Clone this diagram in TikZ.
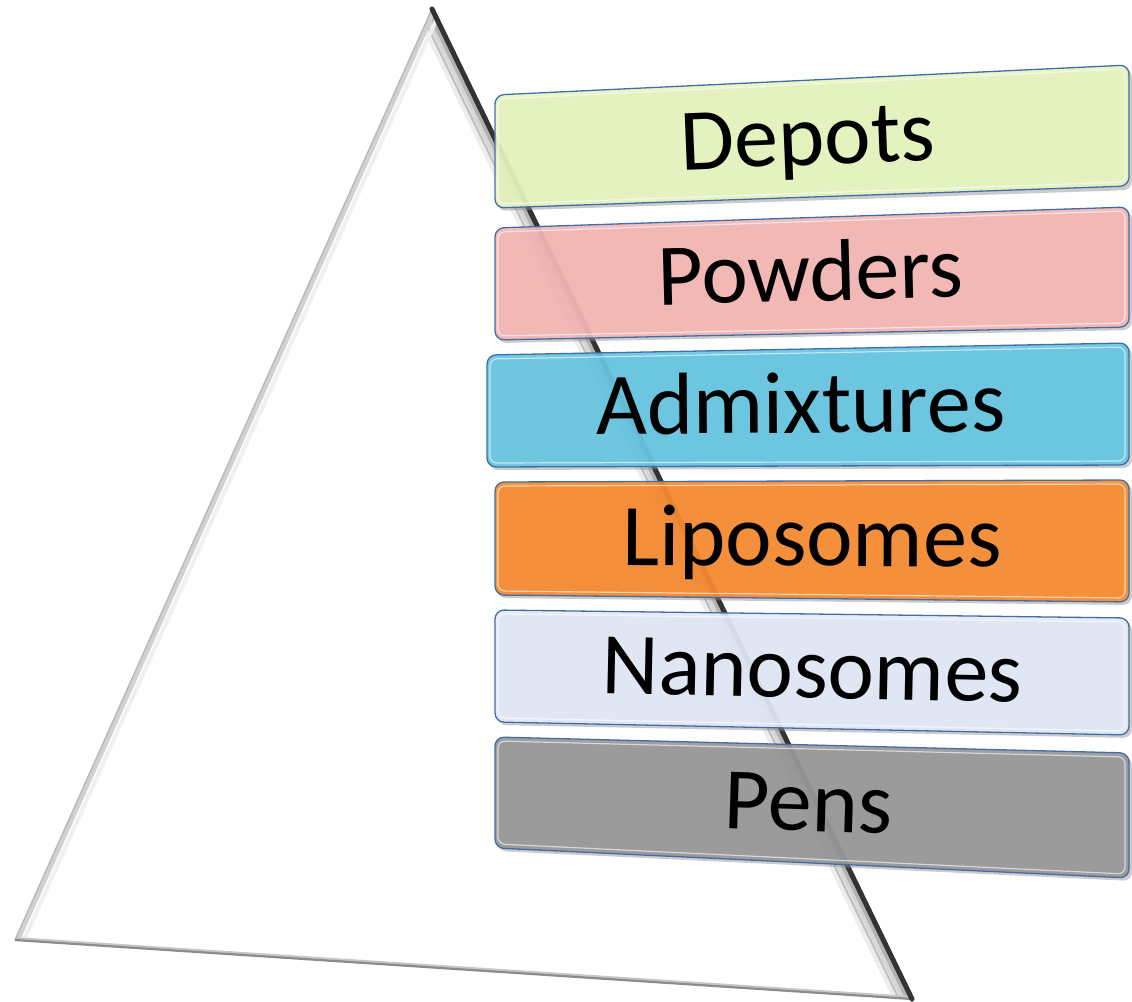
\documentclass[tikz,border=0pt]{standalone}
\usepackage{fontspec}
\setmainfont{Carlito}
\definecolor{cDep}{RGB}{230,246,190}
\definecolor{cPow}{RGB}{246,182,180}
\definecolor{cAdm}{RGB}{100,198,226}
\definecolor{cLip}{RGB}{248,136,44}
\definecolor{cNan}{RGB}{228,234,249}
\definecolor{cPen}{RGB}{150,150,150}
\definecolor{boxline}{RGB}{65,110,170}
\begin{document}
\begin{tikzpicture}[x=1pt,y=-1pt,
  boxshape/.style={rounded corners=9pt, draw=boxline, line width=1.3pt, fill opacity=0.9},
  boxshadow/.style={rounded corners=9pt, fill=black!45, opacity=0.45},
  boxhl/.style={rounded corners=7pt, draw=white, line width=1.2pt, opacity=0.6},
  lbl/.style={font=\fontsize{88}{100}\selectfont, anchor=base, inner sep=0pt, text=black}]
\useasboundingbox (0,0) rectangle (1132,1001);
% ---------- triangle ----------
\coordinate (apex) at (432,9);
\coordinate (bl) at (15,940);
\coordinate (br) at (912,999);
\fill[white] (apex) -- (bl) -- (br) -- cycle;
\begin{scope}
  \clip (apex) -- (bl) -- (br) -- cycle;
  \draw[black!7, line width=18pt] ([xshift=-9pt]apex) -- ([xshift=-9pt]br);
  \draw[black!16, line width=9pt] ([xshift=-6pt]apex) -- ([xshift=-6pt]br);
  \draw[black!30, line width=5pt] ([xshift=-4pt]apex) -- ([xshift=-4pt]br);
  \draw[black!25, line width=2pt] ([xshift=-13pt]apex) -- ([xshift=-13pt]br);
  \draw[black!18, line width=4pt] ([xshift=3pt]apex) -- ([xshift=3pt]bl);
  \draw[black!6, line width=4pt] ([xshift=9pt]apex) -- ([xshift=9pt]bl);
  \draw[black!22, line width=4pt] ([yshift=1pt]bl) -- ([yshift=1pt]br);
\end{scope}
\draw[black!28, line width=1.5pt] (apex) -- (bl);
\draw[black!45, line width=2.2pt] (bl) -- (br);
\draw[black!80, line width=5pt, line cap=round] (apex) -- (br);
% ---------- boxes ----------
% Depots
\path[boxshadow] (497,98) -- (1132,68) -- (1132,190) -- (497,211) -- cycle;
\path[boxshape, fill=cDep] (495,95) -- (1129,65) -- (1129,186) -- (495,208) -- cycle;
\draw[boxhl] (498,99) -- (1125,69) -- (1125,182) -- (498,204) -- cycle;
\node[lbl, rotate=2.3] (tDep) at (809,165) {Depots};
% Powders
\path[boxshadow] (497,231) -- (1132,210) -- (1132,330) -- (497,343) -- cycle;
\path[boxshape, fill=cPow] (495,228) -- (1129,207) -- (1129,327) -- (495,340) -- cycle;
\draw[boxhl] (498,232) -- (1125,211) -- (1125,323) -- (498,336) -- cycle;
\node[lbl, rotate=1.5] (tPow) at (811,301) {Powders};
% Admixtures
\path[boxshadow] (489,358) -- (1132,346) -- (1132,468) -- (489,470) -- cycle;
\path[boxshape, fill=cAdm] (487,355) -- (1129,343) -- (1129,465) -- (487,467) -- cycle;
\draw[boxhl] (490,359) -- (1125,347) -- (1125,461) -- (490,463) -- cycle;
\node[lbl, rotate=0.4] (tAdm) at (801,433) {Admixtures};
% Liposomes
\path[boxshadow] (497,485) -- (1132,483) -- (1132,605) -- (497,598) -- cycle;
\path[boxshape, fill=cLip] (495,482) -- (1129,480) -- (1129,602) -- (495,595) -- cycle;
\draw[boxhl] (498,486) -- (1125,484) -- (1125,598) -- (498,591) -- cycle;
\node[lbl, rotate=-0.3] (tLip) at (812,566) {Liposomes};
% Nanosomes
\path[boxshadow] (497,613) -- (1132,621) -- (1132,738) -- (497,725) -- cycle;
\path[boxshape, fill=cNan] (495,610) -- (1129,618) -- (1129,735) -- (495,722) -- cycle;
\draw[boxhl] (498,614) -- (1125,622) -- (1125,731) -- (498,718) -- cycle;
\node[lbl, rotate=-1.2] (tNan) at (812,698) {Nanosomes};
% Pens
\path[boxshadow] (497,740) -- (1132,756) -- (1132,881) -- (497,851) -- cycle;
\path[boxshape, fill=cPen] (495,737) -- (1129,753) -- (1129,878) -- (495,848) -- cycle;
\draw[boxhl] (498,741) -- (1125,757) -- (1125,874) -- (498,844) -- cycle;
\node[lbl, rotate=-1.8] (tPen) at (808,831) {Pens};
\end{tikzpicture}
\end{document}
